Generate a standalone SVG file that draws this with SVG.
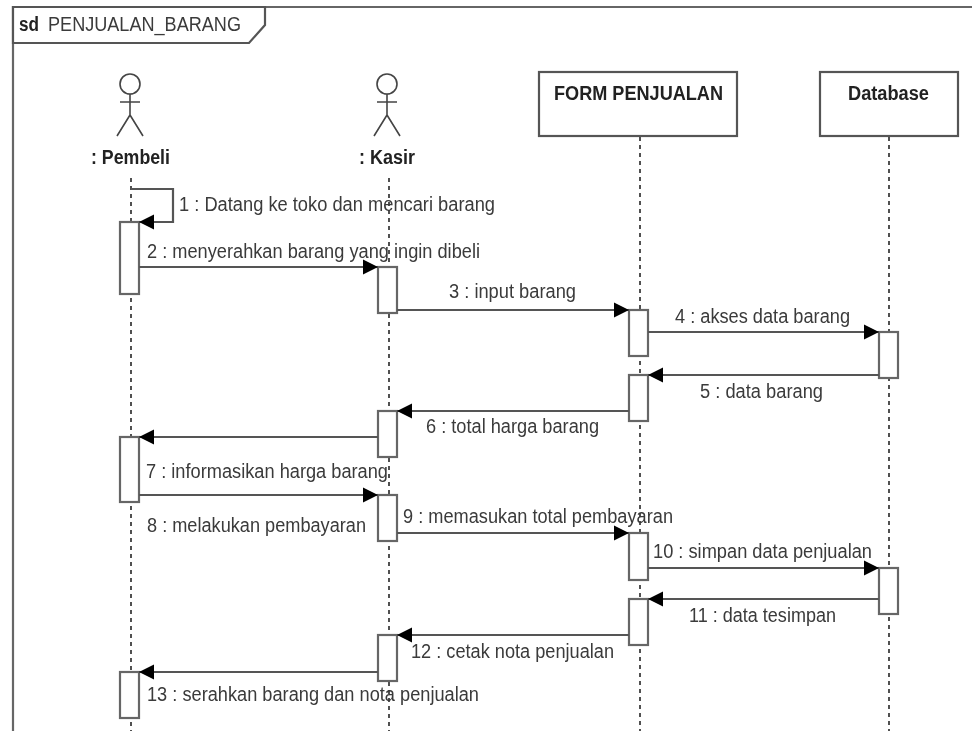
<svg xmlns="http://www.w3.org/2000/svg" width="972" height="731" viewBox="0 0 972 731">
<style>
.f{fill:none;stroke:#666;stroke-width:2.2}
.b{fill:#fff;stroke:#555;stroke-width:2.2}
.a{fill:#fff;stroke:#666;stroke-width:2.2}
.actor{fill:none;stroke:#444;stroke-width:1.6}
.l{fill:none;stroke:#333;stroke-width:1.7;stroke-dasharray:4 4}
.m{fill:none;stroke:#555;stroke-width:2.2;marker-end:url(#h)}
text{font-family:"Liberation Sans",Arial,sans-serif;font-size:20px;fill:#3a3a3a}
.t{font-weight:bold;fill:#222}
</style>
<defs>
<marker id="h" markerUnits="userSpaceOnUse" markerWidth="16" markerHeight="16" refX="15" refY="8" orient="auto"><path d="M0 0.5L15 8L0 15.5Z" fill="#000"/></marker>
<filter id="s" x="0" y="0" width="972" height="731" filterUnits="userSpaceOnUse"><feGaussianBlur stdDeviation="0.6"/></filter>
</defs>
<rect width="972" height="731" fill="#fff"/>
<g filter="url(#s)">
<g id="frame">
<path class="f" d="M13 731V7H972"/>
<path class="b" d="M13 7H265V25L249 43H13Z"/>
<text class="t" x="19" y="31" textLength="20" lengthAdjust="spacingAndGlyphs">sd</text>
<text x="48" y="31" textLength="193" lengthAdjust="spacingAndGlyphs">PENJUALAN_BARANG</text>
</g>
<g id="lifelines">
<path class="l" d="M131 178V731"/>
<path class="l" d="M389 178V731"/>
<path class="l" d="M640 137V731"/>
<path class="l" d="M889 137V731"/>
</g>
<g id="pembeli">
<circle class="actor" cx="130" cy="84" r="10"/>
<path class="actor" d="M130 94V115M120 102H140M130 115L117 136M130 115L143 136"/>
<text class="t" x="91" y="164" textLength="79" lengthAdjust="spacingAndGlyphs">: Pembeli</text>
</g>
<g id="kasir">
<circle class="actor" cx="387" cy="84" r="10"/>
<path class="actor" d="M387 94V115M377 102H397M387 115L374 136M387 115L400 136"/>
<text class="t" x="359" y="164" textLength="56" lengthAdjust="spacingAndGlyphs">: Kasir</text>
</g>
<g id="form-penjualan">
<rect class="b" x="539" y="72" width="198" height="64"/>
<text class="t" x="554" y="100" textLength="169" lengthAdjust="spacingAndGlyphs">FORM PENJUALAN</text>
</g>
<g id="database">
<rect class="b" x="820" y="72" width="138" height="64"/>
<text class="t" x="848" y="100" textLength="81" lengthAdjust="spacingAndGlyphs">Database</text>
</g>
<g id="activations">
<rect class="a" x="120" y="222" width="19" height="72"/>
<rect class="a" x="378" y="267" width="19" height="46"/>
<rect class="a" x="629" y="310" width="19" height="46"/>
<rect class="a" x="879" y="332" width="19" height="46"/>
<rect class="a" x="629" y="375" width="19" height="46"/>
<rect class="a" x="378" y="411" width="19" height="46"/>
<rect class="a" x="120" y="437" width="19" height="65"/>
<rect class="a" x="378" y="495" width="19" height="46"/>
<rect class="a" x="629" y="533" width="19" height="47"/>
<rect class="a" x="879" y="568" width="19" height="46"/>
<rect class="a" x="629" y="599" width="19" height="46"/>
<rect class="a" x="378" y="635" width="19" height="46"/>
<rect class="a" x="120" y="672" width="19" height="46"/>
</g>
<g id="connectors">
<path class="m" d="M131 189H173V222H139"/>
<path class="m" d="M139 267H378"/>
<path class="m" d="M397 310H629"/>
<path class="m" d="M648 332H879"/>
<path class="m" d="M879 375H648"/>
<path class="m" d="M629 411H397"/>
<path class="m" d="M378 437H139"/>
<path class="m" d="M139 495H378"/>
<path class="m" d="M397 533H629"/>
<path class="m" d="M648 568H879"/>
<path class="m" d="M879 599H648"/>
<path class="m" d="M629 635H397"/>
<path class="m" d="M378 672H139"/>
</g>
<g id="labels">
<text x="179" y="211" textLength="316" lengthAdjust="spacingAndGlyphs">1 : Datang ke toko dan mencari barang</text>
<text x="147" y="258" textLength="333" lengthAdjust="spacingAndGlyphs">2 : menyerahkan barang yang ingin dibeli</text>
<text x="449" y="298" textLength="127" lengthAdjust="spacingAndGlyphs">3 : input barang</text>
<text x="675" y="323" textLength="175" lengthAdjust="spacingAndGlyphs">4 : akses data barang</text>
<text x="700" y="398" textLength="123" lengthAdjust="spacingAndGlyphs">5 : data barang</text>
<text x="426" y="433" textLength="173" lengthAdjust="spacingAndGlyphs">6 : total harga barang</text>
<text x="146" y="478" textLength="242" lengthAdjust="spacingAndGlyphs">7 : informasikan harga barang</text>
<text x="147" y="532" textLength="219" lengthAdjust="spacingAndGlyphs">8 : melakukan pembayaran</text>
<text x="403" y="523" textLength="270" lengthAdjust="spacingAndGlyphs">9 : memasukan total pembayaran</text>
<text x="653" y="558" textLength="219" lengthAdjust="spacingAndGlyphs">10 : simpan data penjualan</text>
<text x="689" y="622" textLength="147" lengthAdjust="spacingAndGlyphs">11 : data tesimpan</text>
<text x="411" y="658" textLength="203" lengthAdjust="spacingAndGlyphs">12 : cetak nota penjualan</text>
<text x="147" y="701" textLength="332" lengthAdjust="spacingAndGlyphs">13 : serahkan barang dan nota penjualan</text>
</g>
</g>
</svg>
